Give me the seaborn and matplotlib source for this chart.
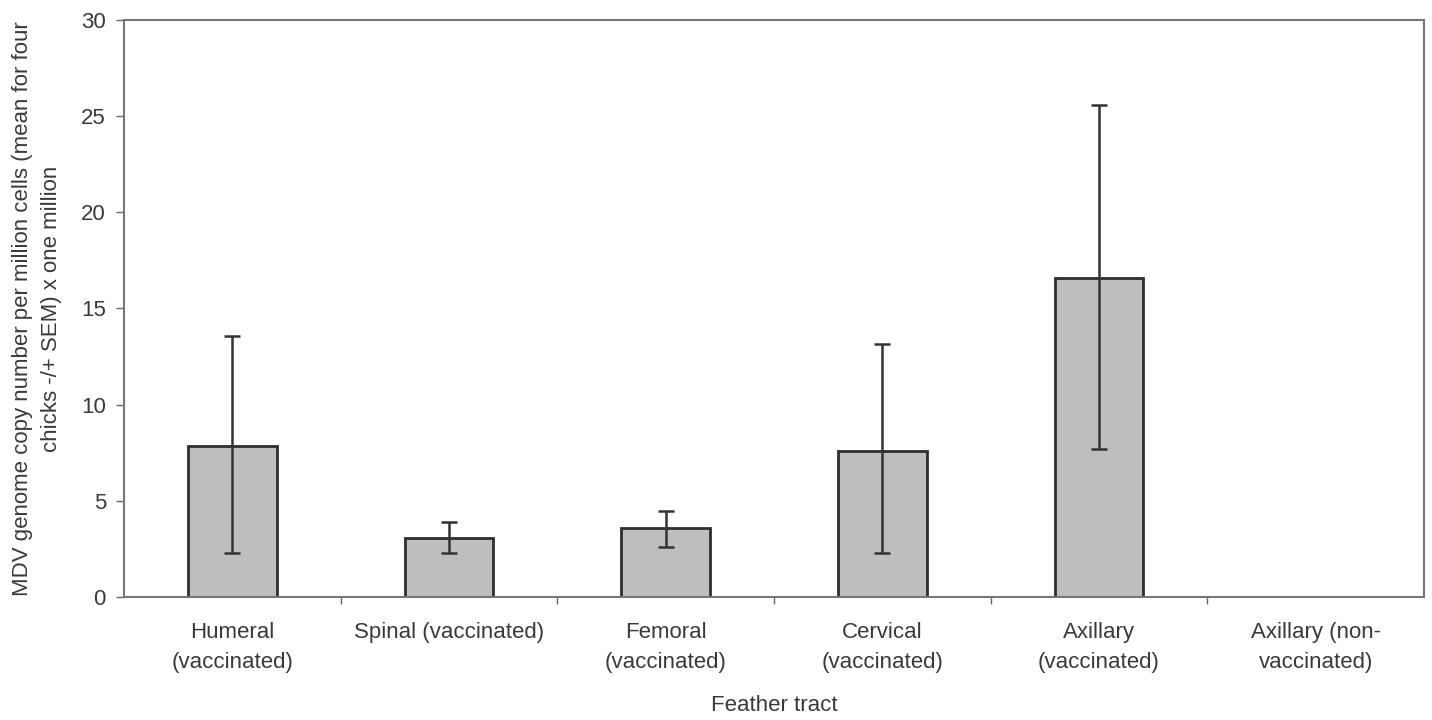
import matplotlib
matplotlib.use("Agg")
import matplotlib.pyplot as plt
import seaborn as sns
import pandas as pd
import numpy as np

categories = ["Humeral\n(vaccinated)", "Spinal (vaccinated)", "Femoral\n(vaccinated)",
              "Cervical\n(vaccinated)", "Axillary\n(vaccinated)", "Axillary (non-\nvaccinated)"]
means = [7.85, 3.05, 3.57, 7.59, 16.6, 0.0]
upper = [13.59, 3.92, 4.47, 13.14, 25.57, 0.0]
lower = [2.27, 2.27, 2.58, 2.27, 7.68, 0.0]
yticks = [0, 5, 10, 15, 20, 25, 30]

sns.set_theme(style="white")
plt.rcParams['font.family'] = ['Liberation Sans', 'DejaVu Sans']

df = pd.DataFrame({"tract": categories, "value": means})

fig = plt.figure(figsize=(14.32, 7.2), dpi=100)
ax = fig.add_axes([124/1432, 123/720, 1300/1432, 577/720])

sns.barplot(data=df, x="tract", y="value", ax=ax, color="#bebebe",
            edgecolor="#2e2e2e", linewidth=2.0, width=0.41, saturation=1,
            errorbar=None)
for p in ax.patches:
    p.set_facecolor("#bebebe")

xs = np.arange(len(categories))
m = np.array(means); up = np.array(upper); lo = np.array(lower)
mask = m > 0
ax.errorbar(xs[mask], m[mask], yerr=[m[mask] - lo[mask], up[mask] - m[mask]],
            fmt="none", ecolor="#333333", elinewidth=1.8, capsize=6, capthick=1.8)
# zero value marker for last category
ax.plot([xs[-1] - 0.08, xs[-1] + 0.08], [0, 0], color="#cfcfcf", lw=1)

fs = 16
ax.set_xlim(-0.5, len(categories) - 0.5)
ax.set_ylim(0, 30)
ax.set_yticks(yticks)
ax.set_yticklabels([str(v) for v in yticks], fontsize=fs, color="#3a3a3a")
ax.set_xticks(xs)
ax.set_xticklabels(categories, fontsize=fs, color="#3a3a3a", linespacing=1.55)
ax.set_xticks(np.arange(0.5, len(categories) - 0.5, 1.0), minor=True)
ax.tick_params(axis="x", which="major", length=0, pad=18)
ax.tick_params(axis="x", which="minor", length=5, width=1, color="#666666", direction="out", bottom=True)
ax.tick_params(axis="y", which="major", length=6, width=1, color="#666666", direction="out", left=True, pad=7)

for s in ax.spines.values():
    s.set_color("#777777")
    s.set_linewidth(1.5)

ax.set_xlabel("Feather tract", fontsize=fs, color="#3a3a3a", labelpad=16)
ax.set_ylabel("MDV genome copy number per million cells (mean for four\nchicks -/+ SEM) x one million",
              fontsize=fs, color="#3a3a3a", labelpad=14, linespacing=1.45)
ax.grid(False)

fig.savefig("out.png", dpi=100, facecolor="white")
